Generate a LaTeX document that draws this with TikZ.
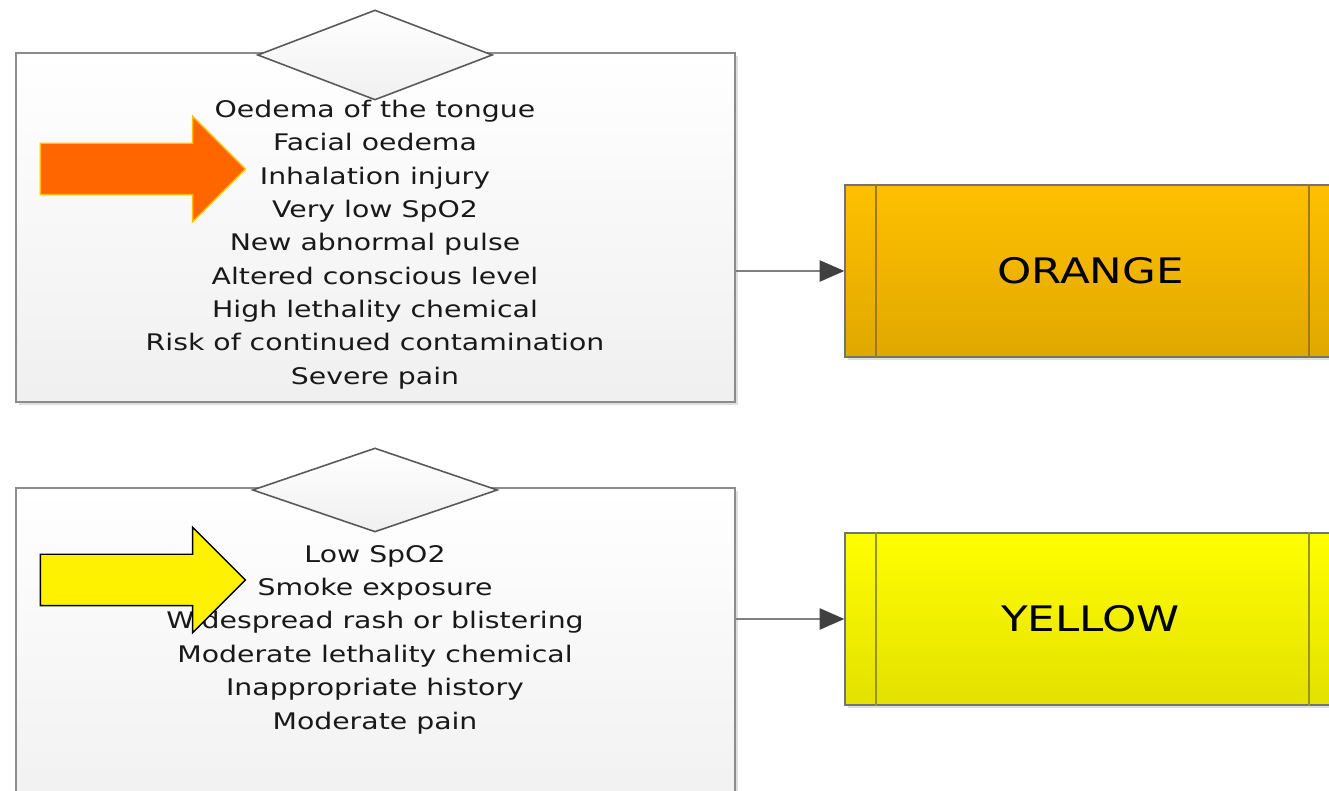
\documentclass[tikz,border=0pt]{standalone}
\usepackage{fontspec}
\newfontfamily\critfont[FakeStretch=1.24]{DejaVu Sans}
\usetikzlibrary{arrows.meta, positioning, shapes.geometric, shapes.arrows, shadows}

\definecolor{boxline}{RGB}{140,140,140}
\definecolor{orangetop}{RGB}{255,192,0}
\definecolor{orangebot}{RGB}{224,168,0}
\definecolor{orangeedge}{RGB}{160,120,20}
\definecolor{yellowtop}{RGB}{255,255,0}
\definecolor{yellowbot}{RGB}{228,224,0}
\definecolor{yellowedge}{RGB}{150,150,30}
\definecolor{arroworange}{RGB}{255,102,0}
\definecolor{arrowrim}{RGB}{255,192,0}

\begin{document}
\begin{tikzpicture}[
    critbox/.style={draw=boxline, line width=1.4pt, top color=white, bottom color=black!6,
        drop shadow={shadow xshift=1.5pt, shadow yshift=-1.5pt, opacity=0.25},
        minimum width=14.38cm, inner sep=0pt},
    decision/.style={diamond, draw=black!65, line width=0.9pt, top color=white,
        bottom color=black!6, inner sep=0pt},
    crittext/.style={align=center, text=black!90, font=\critfont\fontsize{13}{19}\selectfont},
    levelbox/.style={draw=black!55, line width=0.8pt, minimum width=9.82cm, minimum height=3.44cm,
        drop shadow={shadow xshift=1.5pt, shadow yshift=-1.5pt, opacity=0.25},
        font=\critfont\fontsize{20}{24}\selectfont},
    bigarrow/.style={single arrow, minimum height=4.1cm, inner xsep=0pt, inner ysep=0.5cm,
        single arrow head extend=0.54cm, line width=0.8pt},
    link/.style={draw=black!50, line width=1.2pt, -{Triangle[length=14pt, width=12pt, color=black!75]}}
]
    \def\W{26.58} % picture width
    \def\H{15.82} % picture height
    \path[use as bounding box] (0,0) rectangle (\W,\H);
    \clip (0,0) rectangle (\W,\H);

    % orange criteria
    \node[critbox, minimum height=6.98cm] (topbox) at (7.51,11.27) {};
    \node[decision, minimum width=4.7cm, minimum height=1.8cm] (topdec) at (7.5,14.72) {};
    \node[crittext] (toptext) at (7.5,10.93) {Oedema of the tongue\\Facial oedema\\Inhalation injury\\Very low SpO2\\New abnormal pulse\\Altered conscious level\\High lethality chemical\\Risk of continued contamination\\Severe pain};
    \node[bigarrow, fill=arroworange, draw=arrowrim] (arrorange) at (2.6,12.44) {};

    % yellow criteria
    \node[critbox, minimum height=6.84cm] (botbox) at (7.51,2.64) {};
    \node[decision, minimum width=4.9cm, minimum height=1.68cm] (botdec) at (7.5,6.02) {};
    \node[crittext] (bottext) at (7.5,3.03) {Low SpO2\\Smoke exposure\\Widespread rash or blistering\\Moderate lethality chemical\\Inappropriate history\\Moderate pain};
    \node[bigarrow, fill=yellow, draw=black] (arryellow) at (2.6,4.22) {};

    % triage levels
    \node[levelbox, top color=orangetop, bottom color=orangebot] (orange) at (21.81,10.4) {ORANGE};
    \draw[orangeedge, line width=1.2pt] ([xshift=0.64cm]orange.north west) -- ([xshift=0.64cm]orange.south west);
    \draw[orangeedge, line width=1.2pt] ([xshift=-0.56cm]orange.north east) -- ([xshift=-0.56cm]orange.south east);

    \node[levelbox, top color=yellowtop, bottom color=yellowbot] (yellowlvl) at (21.81,3.44) {YELLOW};
    \draw[yellowedge, line width=1.2pt] ([xshift=0.64cm]yellowlvl.north west) -- ([xshift=0.64cm]yellowlvl.south west);
    \draw[yellowedge, line width=1.2pt] ([xshift=-0.56cm]yellowlvl.north east) -- ([xshift=-0.56cm]yellowlvl.south east);

    % connectors
    \draw[link] (orange.west -| topbox.east) -- (orange.west);
    \draw[link] (yellowlvl.west -| botbox.east) -- (yellowlvl.west);
\end{tikzpicture}
\end{document}
